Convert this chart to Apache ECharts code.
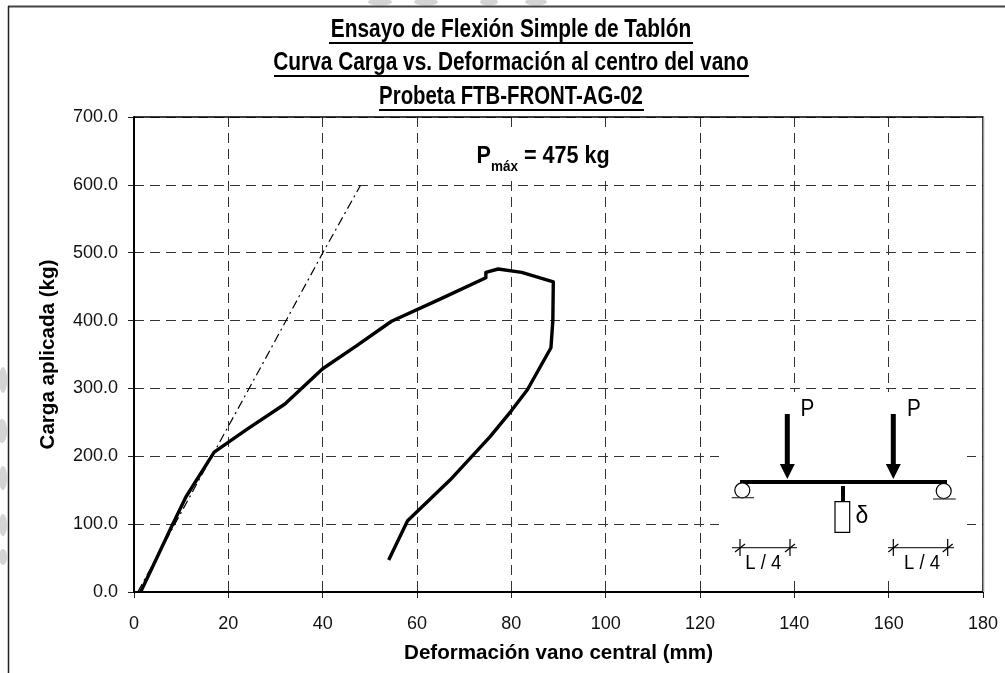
<!DOCTYPE html>
<html><head><meta charset="utf-8">
<style>html,body{margin:0;padding:0;background:#fff}#c{width:1005px;height:673px}</style>
<script src="https://cdn.jsdelivr.net/npm/echarts@6/dist/echarts.min.js"></script></head>
<body><div id="c"></div>
<script>
const titleLines = ['Ensayo de Flexión Simple de Tablón','Curva Carga vs. Deformación al centro del vano','Probeta FTB-FRONT-AG-02'];
const xLabel = 'Deformación vano central (mm)';
const yLabel = 'Carga aplicada (kg)';
const curveX = [1.4,4,8,11,17,24,32,40,47,54.6,65,74.6,74.6,77.2,82.2,88.9,88.8,88.4,83.4,80,75.5,67,58,54];
const curveY = [0,38,97,140,206,240,277,329,362,399,432,463,471,476,471,457,400,360,298,267,229,165,105,47];
const refX = [0.8,16.9,26.7,39.8,48];
const refY = [0,205,329,497,599];
const F = '"Liberation Sans",Arial,sans-serif';
const chart = echarts.init(document.getElementById('c'),null,{renderer:'canvas'});
const K='#000', Z=10;
function ln(x1,y1,x2,y2,w,c){return {type:'line',silent:true,z:Z+1,shape:{x1,y1,x2,y2},style:{stroke:c||K,lineWidth:w||1}};}
// text placed by baseline: y is the baseline, sx the horizontal squeeze
function tx(x,base,t,fs,w,sx,al){return {type:'text',x,y:base+Math.round(fs*0.212),scaleX:sx||1,silent:true,z:Z+1,style:{text:t,font:(w||'normal')+' '+fs+'px '+F,fill:K,align:al||'center',verticalAlign:'bottom'}};}
function arrow(x){return [ln(x,414,x,466,5),{type:'polygon',silent:true,z:Z+1,shape:{points:[[x-7.5,464],[x+7.5,464],[x,479]]},style:{fill:K}}];}
function dim(x1,x2,a,b){return [ln(a,547.7,b,547.7,1.2,'#333'),ln(x1,539,x1,556,1.2),ln(x2,539,x2,556,1.2),ln(x1-5,552,x1+5,544,1.2),ln(x2-5,552,x2+5,544,1.2)];}
const blobs=[[3,380,4,13],[2,431,5,12],[3,478,4,12],[3,525,4,11],[3,557,4,8],[380,2,12,3.5],[426,2,12,3.5],[489,2,9,3.5],[536,2,11,3.5]].map(b=>({type:'ellipse',silent:true,z:0,shape:{cx:b[0],cy:b[1],rx:b[2],ry:b[3]},style:{fill:'#d4d4d4'}}));
const graphic=[...blobs,
 ln(8,6.5,1005,6.5,2,'#444'),ln(8.5,6,8.5,673,1.5,'#222'),
 ln(983.7,117,983.7,592,1.2,'#aaa'),
 tx(511,38,titleLines[0],25,'bold',0.835),
 tx(511,71,titleLines[1],25,'bold',0.835),
 tx(511,105,titleLines[2],25,'bold',0.815),
 ln(329,43,693,43,2),ln(274,76,749,76,2),ln(379,110,644,110,2),
 {type:'rect',silent:true,z:Z,shape:{x:470,y:133,width:150,height:48},style:{fill:'#fff'}},
 {type:'text',x:476.5,y:168,scaleX:0.9,silent:true,z:Z+1,style:{rich:{p:{font:'bold 24px '+F,fill:K},s:{font:'bold 15px '+F,fill:K,verticalAlign:'bottom',padding:[0,0,-6,0]}},text:'{p|P}{s|máx}{p| = 475 kg}',verticalAlign:'bottom'}},
 {type:'rect',silent:true,z:Z,shape:{x:719,y:392,width:248,height:186},style:{fill:'#fff'}},
 ln(740,482,947,482,4),
 {type:'circle',silent:true,z:Z+1,shape:{cx:742.3,cy:490.3,r:7.5},style:{fill:'#fff',stroke:K,lineWidth:1.2}},
 {type:'circle',silent:true,z:Z+1,shape:{cx:943.7,cy:491,r:7.5},style:{fill:'#fff',stroke:K,lineWidth:1.2}},
 ln(731.7,497.7,754,497.7,1.2,'#333'),ln(933,499,955.7,499,1.2,'#333'),
 ...arrow(787.3),...arrow(893.3),
 tx(800.5,415.7,'P',23,'normal',0.9,'left'),tx(907,415.7,'P',23,'normal',0.9,'left'),
 ln(843,486,843,502,4),
 {type:'rect',silent:true,z:Z+1,shape:{x:835,y:501.7,width:14.7,height:30.6},style:{fill:'#fff',stroke:K,lineWidth:1.2}},
 tx(862,523,'δ',23),
 ...dim(740,790,732,797),...dim(893.3,947.7,888,954),
 tx(763.3,570,'L / 4',21,'normal',0.88),tx(922,570,'L / 4',21,'normal',0.88)
];
chart.setOption({animation:false,backgroundColor:'#fff',
 grid:{left:134,right:22,top:117,bottom:81,show:true,borderColor:K,borderWidth:1.5,backgroundColor:'transparent',z:3},
 xAxis:{type:'value',min:0,max:180,interval:20,name:xLabel,nameLocation:'middle',nameGap:51,
  nameTextStyle:{fontFamily:F,fontSize:20.6,fontWeight:'bold',color:K},
  axisLine:{show:true,lineStyle:{color:K,width:2}},axisTick:{show:true,length:6,lineStyle:{color:'#222',width:1}},
  axisLabel:{fontFamily:F,fontSize:18,color:'#111',margin:23,showMinLabel:true,showMaxLabel:true},
  splitLine:{show:true,lineStyle:{color:'#333',width:1,type:[10,6]}}},
 yAxis:{type:'value',min:0,max:700,interval:100,name:yLabel,nameLocation:'middle',nameGap:75,
  nameTextStyle:{fontFamily:F,fontSize:20.6,fontWeight:'bold',color:K},
  axisLine:{show:true,lineStyle:{color:K,width:2}},axisTick:{show:true,length:6,lineStyle:{color:'#222',width:1}},
  axisLabel:{fontFamily:F,fontSize:18,color:'#111',margin:16,formatter:v=>v.toFixed(1)},
  splitLine:{show:true,lineStyle:{color:'#333',width:1,type:[10,6]}}},
 series:[
  {type:'line',data:refX.map((x,i)=>[x,refY[i]]),showSymbol:false,symbol:'none',lineStyle:{color:K,width:1.2,type:[9,4,2,4]},z:4},
  {type:'line',data:curveX.map((x,i)=>[x,curveY[i]]),showSymbol:false,symbol:'none',lineStyle:{color:K,width:3.4,join:'round'},z:5}
 ],
 graphic:{elements:graphic}
});
</script></body></html>
